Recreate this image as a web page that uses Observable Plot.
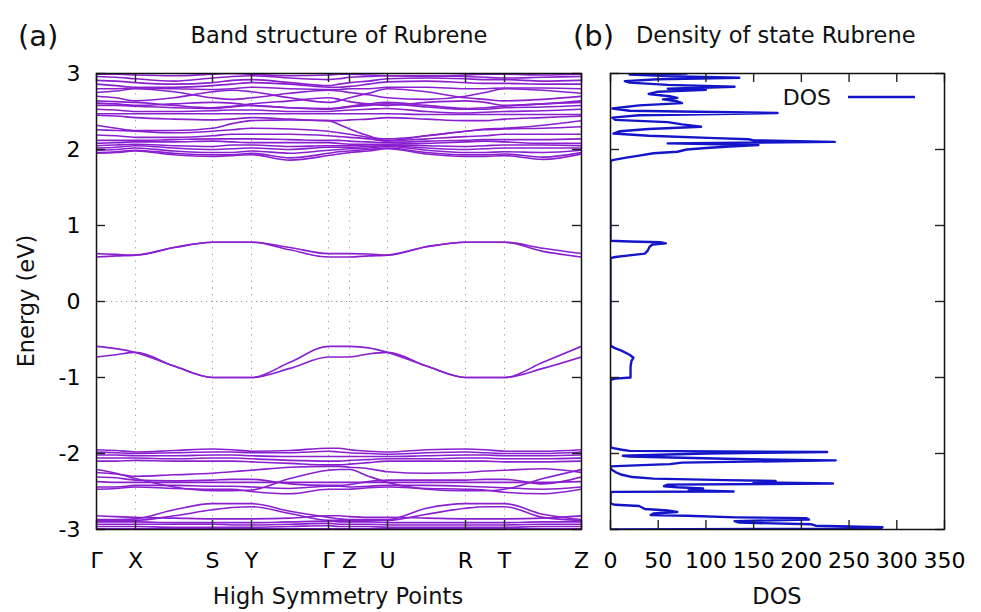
<!DOCTYPE html>
<html>
<head>
<meta charset="utf-8">
<script src="https://cdn.jsdelivr.net/npm/d3@7"></script>
<script src="https://cdn.jsdelivr.net/npm/@observablehq/plot@0.6"></script>
<style>
  html, body { margin: 0; padding: 0; background: white; }
  #wrap { position: relative; width: 981px; height: 612px; background: white; overflow: hidden; }
  #wrap > svg, #wrap > div { position: absolute; top: 0; }
  text { font-family: "DejaVu Sans", sans-serif; }
</style>
</head>
<body>
<div id="wrap"></div>
<script>
// ---- high-symmetry path ----
const kTicks  = [0, 39, 116, 155, 232, 253, 291, 369, 408, 485];
const kLabels = ["Γ", "X", "S", "Y", "Γ", "Z", "U", "R", "T", "Z"];
// sampling positions along the path (symmetry points + midpoints)
const kGrid = [0, 19.5, 39, 77.5, 116, 135.5, 155, 193.5, 232, 242.5, 253, 272, 291, 330, 369, 388.5, 408, 446.5, 485];
const eTicks = [-3, -2, -1, 0, 1, 2, 3];
const dosTicks = [0, 50, 100, 150, 200, 250, 300, 350];

// ---- bands near the gap (eV) at kGrid ----
const gapBands = [
  [0.63,0.62,0.61,0.71,0.78,0.78,0.78,0.71,0.63,0.63,0.63,0.625,0.61,0.72,0.78,0.78,0.78,0.70,0.63],
  [0.585,0.60,0.61,0.71,0.78,0.78,0.78,0.68,0.585,0.585,0.585,0.60,0.61,0.72,0.78,0.78,0.78,0.66,0.585],
  [-0.59,-0.62,-0.67,-0.85,-1.0,-1.0,-1.0,-0.80,-0.59,-0.59,-0.59,-0.61,-0.67,-0.85,-1.0,-1.0,-1.0,-0.80,-0.59],
  [-0.73,-0.70,-0.67,-0.85,-1.0,-1.0,-1.0,-0.88,-0.73,-0.73,-0.73,-0.69,-0.67,-0.85,-1.0,-1.0,-1.0,-0.88,-0.73]
];

// ---- conduction manifold (eV) ----
const upperBands = [
  [2.99,2.99,2.98,2.97,2.99,3.00,2.99,2.97,2.98,2.99,2.99,2.98,2.97,2.96,2.98,2.99,2.99,2.98,2.99],
  [2.96,2.95,2.93,2.90,2.94,2.96,2.97,2.94,2.92,2.93,2.95,2.96,2.97,2.97,2.96,2.95,2.94,2.95,2.96],
  [2.91,2.90,2.88,2.86,2.88,2.91,2.92,2.88,2.84,2.86,2.88,2.90,2.93,2.94,2.93,2.92,2.92,2.90,2.91],
  [2.86,2.84,2.82,2.82,2.84,2.86,2.88,2.86,2.82,2.82,2.83,2.86,2.89,2.90,2.88,2.87,2.87,2.86,2.86],
  [2.80,2.80,2.81,2.80,2.79,2.80,2.82,2.80,2.79,2.79,2.80,2.80,2.82,2.82,2.80,2.80,2.81,2.81,2.80],
  [2.75,2.77,2.80,2.76,2.68,2.66,2.68,2.74,2.78,2.77,2.75,2.72,2.68,2.66,2.70,2.75,2.80,2.78,2.74],
  [2.70,2.68,2.64,2.68,2.76,2.78,2.76,2.68,2.62,2.64,2.68,2.74,2.80,2.76,2.68,2.66,2.64,2.66,2.70],
  [2.64,2.63,2.62,2.58,2.55,2.57,2.60,2.64,2.68,2.66,2.63,2.60,2.58,2.62,2.64,2.62,2.58,2.60,2.64],
  [2.61,2.60,2.58,2.60,2.62,2.61,2.58,2.55,2.54,2.55,2.57,2.60,2.62,2.58,2.54,2.55,2.57,2.60,2.62],
  [2.58,2.58,2.57,2.55,2.54,2.56,2.58,2.55,2.53,2.54,2.56,2.58,2.60,2.56,2.53,2.53,2.55,2.56,2.58],
  [2.53,2.52,2.50,2.50,2.51,2.52,2.52,2.50,2.50,2.51,2.52,2.53,2.54,2.50,2.48,2.49,2.50,2.51,2.53],
  [2.47,2.47,2.47,2.47,2.47,2.47,2.47,2.47,2.47,2.47,2.47,2.47,2.47,2.46,2.46,2.46,2.46,2.46,2.46],
  [2.45,2.44,2.42,2.40,2.39,2.40,2.42,2.40,2.38,2.38,2.39,2.40,2.42,2.40,2.38,2.38,2.40,2.42,2.44],
  [2.32,2.28,2.25,2.25,2.28,2.34,2.38,2.39,2.38,2.33,2.27,2.18,2.12,2.18,2.24,2.27,2.28,2.32,2.38],
  [2.26,2.25,2.24,2.22,2.24,2.26,2.28,2.27,2.24,2.22,2.20,2.16,2.14,2.18,2.24,2.26,2.27,2.28,2.30],
  [2.19,2.18,2.16,2.16,2.18,2.20,2.20,2.20,2.18,2.17,2.16,2.14,2.11,2.14,2.17,2.18,2.20,2.20,2.20],
  [2.12,2.12,2.12,2.13,2.14,2.14,2.14,2.13,2.12,2.12,2.11,2.10,2.09,2.11,2.12,2.13,2.13,2.13,2.14],
  [2.08,2.09,2.10,2.10,2.11,2.10,2.09,2.09,2.09,2.08,2.07,2.07,2.07,2.08,2.10,2.11,2.10,2.08,2.08],
  [2.05,2.06,2.07,2.05,2.04,2.06,2.06,2.04,2.05,2.05,2.05,2.06,2.06,2.05,2.04,2.05,2.06,2.06,2.05],
  [2.02,2.03,2.05,2.02,2.00,2.01,2.02,2.00,2.03,2.03,2.03,2.04,2.05,2.02,2.00,2.01,2.02,2.02,2.02],
  [1.99,2.00,2.02,1.98,1.96,1.96,1.98,1.95,1.99,2.00,2.01,2.02,2.04,1.99,1.96,1.96,1.97,1.96,1.99],
  [1.96,1.97,1.99,1.95,1.93,1.93,1.95,1.89,1.95,1.97,1.98,2.00,2.02,1.96,1.93,1.93,1.94,1.90,1.96],
  [1.95,1.96,1.98,1.93,1.91,1.92,1.93,1.86,1.92,1.94,1.96,1.98,2.01,1.94,1.91,1.91,1.92,1.87,1.94]
];

// ---- valence manifold (eV) ----
const lowerBands = [
  [-1.95,-1.96,-1.98,-1.96,-1.94,-1.95,-1.97,-1.96,-1.93,-1.93,-1.95,-1.97,-1.98,-1.95,-1.94,-1.95,-1.97,-1.97,-1.95],
  [-1.98,-1.99,-2.00,-1.99,-1.98,-1.98,-1.99,-1.99,-1.97,-1.98,-1.99,-2.00,-2.01,-1.99,-1.98,-1.99,-2.00,-2.00,-1.98],
  [-2.02,-2.02,-2.03,-2.03,-2.02,-2.02,-2.03,-2.04,-2.04,-2.04,-2.04,-2.04,-2.04,-2.03,-2.02,-2.02,-2.03,-2.03,-2.02],
  [-2.06,-2.06,-2.06,-2.07,-2.06,-2.06,-2.07,-2.09,-2.10,-2.10,-2.09,-2.08,-2.07,-2.07,-2.06,-2.06,-2.07,-2.07,-2.06],
  [-2.10,-2.10,-2.09,-2.10,-2.10,-2.10,-2.11,-2.13,-2.15,-2.15,-2.14,-2.12,-2.10,-2.10,-2.10,-2.10,-2.11,-2.11,-2.10],
  [-2.21,-2.26,-2.33,-2.44,-2.49,-2.49,-2.48,-2.33,-2.22,-2.21,-2.21,-2.30,-2.38,-2.47,-2.49,-2.49,-2.47,-2.33,-2.21],
  [-2.25,-2.27,-2.30,-2.28,-2.26,-2.24,-2.22,-2.18,-2.17,-2.17,-2.18,-2.20,-2.24,-2.26,-2.25,-2.23,-2.22,-2.20,-2.25],
  [-2.37,-2.38,-2.38,-2.38,-2.38,-2.38,-2.38,-2.38,-2.38,-2.38,-2.38,-2.38,-2.38,-2.38,-2.38,-2.38,-2.38,-2.38,-2.37],
  [-2.31,-2.32,-2.35,-2.36,-2.35,-2.34,-2.34,-2.40,-2.42,-2.42,-2.41,-2.37,-2.35,-2.35,-2.35,-2.34,-2.34,-2.40,-2.31],
  [-2.44,-2.44,-2.42,-2.42,-2.43,-2.43,-2.44,-2.46,-2.43,-2.43,-2.44,-2.43,-2.42,-2.42,-2.43,-2.44,-2.45,-2.47,-2.44],
  [-2.47,-2.46,-2.44,-2.46,-2.47,-2.47,-2.50,-2.53,-2.47,-2.47,-2.47,-2.45,-2.44,-2.46,-2.47,-2.48,-2.51,-2.53,-2.47],
  [-2.87,-2.87,-2.86,-2.74,-2.66,-2.66,-2.66,-2.76,-2.84,-2.86,-2.87,-2.87,-2.87,-2.72,-2.66,-2.66,-2.66,-2.80,-2.87],
  [-2.88,-2.88,-2.88,-2.82,-2.74,-2.71,-2.70,-2.79,-2.88,-2.88,-2.88,-2.88,-2.88,-2.80,-2.72,-2.70,-2.70,-2.84,-2.88],
  [-2.82,-2.83,-2.84,-2.85,-2.86,-2.86,-2.86,-2.85,-2.82,-2.82,-2.83,-2.84,-2.84,-2.85,-2.86,-2.86,-2.86,-2.85,-2.82],
  [-2.90,-2.90,-2.90,-2.91,-2.91,-2.91,-2.91,-2.90,-2.89,-2.90,-2.90,-2.90,-2.91,-2.91,-2.91,-2.91,-2.91,-2.90,-2.90],
  [-2.93,-2.93,-2.93,-2.93,-2.93,-2.94,-2.94,-2.93,-2.92,-2.93,-2.93,-2.93,-2.94,-2.94,-2.94,-2.94,-2.94,-2.93,-2.93],
  [-2.96,-2.96,-2.96,-2.97,-2.97,-2.97,-2.97,-2.96,-2.95,-2.96,-2.96,-2.96,-2.97,-2.97,-2.97,-2.97,-2.97,-2.96,-2.96],
  [-2.99,-2.99,-2.99,-2.99,-2.99,-2.99,-2.99,-2.99,-2.99,-2.99,-2.99,-2.99,-2.99,-2.99,-2.99,-2.99,-2.99,-2.99,-2.99]
];

// ---- density of states: energy (eV) and DOS, in path order ----
const dosE = [
  -3.00,-2.99,-2.97,-2.95,-2.93,-2.91,-2.89,-2.87,-2.85,-2.84,-2.82,-2.81,-2.79,-2.77,-2.75,-2.73,-2.71,-2.69,-2.675,-2.66,
  -2.52,-2.505,-2.50,-2.485,-2.475,-2.46,-2.445,-2.43,-2.41,-2.395,-2.38,-2.36,-2.35,-2.33,-2.31,-2.28,-2.25,-2.21,-2.19,
  -2.17,-2.15,-2.14,-2.12,-2.09,-2.07,-2.04,-2.03,-2.00,-1.98,-1.965,-1.95,-1.93,-1.92,
  -1.03,-1.015,-1.00,-0.95,-0.86,-0.78,-0.74,-0.70,-0.65,-0.61,-0.58,
  0.57,0.585,0.61,0.63,0.67,0.72,0.75,0.765,0.78,0.79,0.80,
  1.84,1.86,1.89,1.92,1.95,1.97,2.00,2.02,2.04,2.06,2.08,2.10,2.12,2.135,2.15,2.18,2.21,2.24,2.27,2.30,2.33,2.36,2.39,2.42,
  2.45,2.48,2.51,2.54,2.58,2.61,2.635,2.66,2.68,2.70,2.73,2.76,2.785,2.80,2.825,2.85,2.88,2.90,2.925,2.945,2.965,2.985,3.00
];
const dosV = [
  0,282,285,215,210,135,130,208,205,131,80,42,45,70,60,36,33,30,5,0,
  0,2,129,90,82,97,70,56,60,233,150,173,120,45,23,12,6,1,0,
  0,40,62,75,236,120,20,13,100,227,20,12,3,0,
  0,5,21,21,21,22,24,20,12,4,0,
  0,5,22,36,39,41,44,58,52,20,0,
  0,2,15,30,45,70,80,100,125,155,60,235,150,145,110,40,3,10,40,95,75,60,5,2,
  30,175,20,2,30,75,70,55,70,62,40,50,100,60,130,60,20,15,50,135,60,20,80
];

// ---- build tables ----
const allBands = [...gapBands, ...upperBands, ...lowerBands];
const bandRows = allBands.flatMap((vals, b) => vals.map((e, i) => ({k: kGrid[i], e, band: b})));
const dosRows = dosE.map((e, i) => ({e, d: dosV[i]}));
const kLabelMap = new Map(kTicks.map((k, i) => [k, kLabels[i]]));

const FONT = {fontFamily: "DejaVu Sans, sans-serif", fontSize: "22px", background: "transparent", color: "black", overflow: "visible"};
const MT = 73, MB = 83, PH = 612 - MT - MB;
const TICK = 9;
const tickStyle = {stroke: "#222", strokeWidth: 1.4};
const BAND = "#8a1fd0";
const BLUE = "#1414c8";

const bandPlot = Plot.plot({
  width: 600, height: 612,
  marginLeft: 96, marginRight: 19, marginTop: MT, marginBottom: MB,
  style: FONT,
  x: {domain: [0, 485], label: null},
  y: {domain: [-3, 3], label: null},
  marks: [
    Plot.ruleX(kTicks.slice(1, -1), {stroke: "#9a9a9a", strokeWidth: 1, strokeDasharray: "1.2,5.5"}),
    Plot.ruleY([0], {stroke: "#9a9a9a", strokeWidth: 1, strokeDasharray: "1.2,3.8"}),
    Plot.line(bandRows, {x: "k", y: "e", z: "band", stroke: BAND, strokeWidth: 1.6, curve: "monotone-x", clip: true}),
    Plot.tickX(kTicks, {x: d => d, insetBottom: PH - TICK, ...tickStyle}),
    Plot.tickX(kTicks, {x: d => d, insetTop: PH - TICK, ...tickStyle}),
    Plot.tickY(eTicks, {y: d => d, insetRight: 485 - TICK, ...tickStyle}),
    Plot.tickY(eTicks, {y: d => d, insetLeft: 485 - TICK, ...tickStyle}),
    Plot.frame({stroke: "#111", strokeWidth: 1.5}),
    Plot.axisX(kTicks, {anchor: "bottom", tickSize: 0, tickPadding: 23, tickFormat: d => kLabelMap.get(d), label: null}),
    Plot.axisY(eTicks, {anchor: "left", tickSize: 0, tickPadding: 16, tickFormat: d => String(d), label: null})
  ]
});

const dosPlot = Plot.plot({
  width: 381, height: 612,
  marginLeft: 10, marginRight: 37, marginTop: MT, marginBottom: MB,
  style: FONT,
  x: {domain: [0, 350], label: null},
  y: {domain: [-3, 3], label: null, axis: null},
  marks: [
    Plot.line(dosRows, {x: "d", y: "e", stroke: BLUE, strokeWidth: 2.4, clip: true}),
    Plot.tickX(dosTicks, {x: d => d, insetBottom: PH - TICK, ...tickStyle}),
    Plot.tickX(dosTicks, {x: d => d, insetTop: PH - TICK, ...tickStyle}),
    Plot.tickY(eTicks, {y: d => d, insetRight: 334 - TICK, ...tickStyle}),
    Plot.tickY(eTicks, {y: d => d, insetLeft: 334 - TICK, ...tickStyle}),
    Plot.frame({stroke: "#111", strokeWidth: 1.5}),
    Plot.axisX(dosTicks, {anchor: "bottom", tickSize: 0, tickPadding: 23, tickFormat: d => String(d), label: null})
  ]
});

const wrap = document.getElementById("wrap");
bandPlot.style.left = "0px";
dosPlot.style.left = "600px";
wrap.appendChild(bandPlot);
wrap.appendChild(dosPlot);

// ---- titles, axis titles and legend ----
const ns = "http://www.w3.org/2000/svg";
const over = document.createElementNS(ns, "svg");
over.setAttribute("width", 981); over.setAttribute("height", 612);
over.style.left = "0px";
over.style.pointerEvents = "none";
function addText(str, x, y, size, anchor, transform) {
  const t = document.createElementNS(ns, "text");
  t.textContent = str;
  t.setAttribute("x", x); t.setAttribute("y", y);
  t.setAttribute("font-size", size);
  t.setAttribute("text-anchor", anchor || "start");
  t.setAttribute("fill", "#111");
  if (transform) t.setAttribute("transform", transform);
  over.appendChild(t);
  return t;
}
addText("(a)", 18, 46, 29);
addText("Band structure of Rubrene", 339, 43, 22.5, "middle");
addText("(b)", 573, 46, 29);
addText("Density of state Rubrene", 636, 43, 22.5, "start");
addText("High Symmetry Points", 338, 604, 22.5, "middle");
addText("DOS", 777, 604, 22.5, "middle");
addText("Energy (eV)", 0, 0, 22.5, "middle", "translate(34,301) rotate(-90)");
addText("DOS", 831, 105, 22, "end");
const leg = document.createElementNS(ns, "line");
leg.setAttribute("x1", 848); leg.setAttribute("x2", 915);
leg.setAttribute("y1", 97); leg.setAttribute("y2", 97);
leg.setAttribute("stroke", BLUE); leg.setAttribute("stroke-width", 2.4);
over.appendChild(leg);
wrap.appendChild(over);
</script>
</body>
</html>
